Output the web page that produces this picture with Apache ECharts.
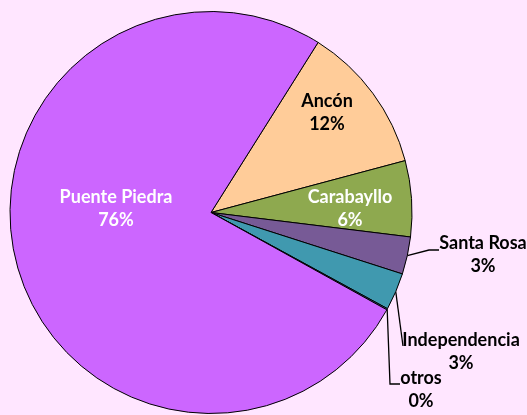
<!DOCTYPE html>
<html>
<head>
<meta charset="utf-8">
<script src="https://cdn.jsdelivr.net/npm/echarts@6/dist/echarts.min.js"></script>
<style>
  html, body { margin: 0; padding: 0; background: #ffe6ff; }
  #main { width: 527px; height: 415px; }
</style>
</head>
<body>
<div id="main"></div>
<script>
// datos (en %)
const districts = ['Ancón', 'Carabayllo', 'Santa Rosa', 'Independencia', 'otros', 'Puente Piedra'];
const shares = [11.9, 6.1, 3.0, 3.0, 0.1, 75.9];
const colors = ['#ffcc99', '#8ea94f', '#775a96', '#4099af', '#4a7ebb', '#cc66ff'];
const labelColors = ['#000', '#fff', '#000', '#000', '#000', '#fff'];
// posición de las etiquetas (centro del bloque de texto)
const labelPos = [[327, 113], [350, 209], [483, 255], [461, 352], [421, 390], [116, 209]];
// codos de las líneas guía (después del punto en el borde del sector)
const guideBends = [null, null, [[429, 250], [439, 250]], [[403, 346]], [[390, 384], [400, 384]], null];

const myChart = echarts.init(document.getElementById('main'));

const options = {
  backgroundColor: '#ffe6ff',
  animation: false,
  textStyle: {
    fontFamily: 'Lato'
  },
  series: [
    {
      type: 'pie',
      center: [211, 212.5],
      radius: 201,
      startAngle: 57.8,
      clockwise: true,
      avoidLabelOverlap: false,
      percentPrecision: 0,
      itemStyle: {
        borderColor: '#000',
        borderWidth: 1
      },
      label: {
        formatter: '{b}\n{d}%',
        fontSize: 18,
        fontWeight: 'bold',
        lineHeight: 23,
        align: 'center'
      },
      labelLine: {
        lineStyle: { color: '#000', width: 1.3 }
      },
      labelLayout: function (p) {
        const pos = labelPos[p.dataIndex];
        const bends = guideBends[p.dataIndex];
        const out = {
          x: pos[0],
          y: pos[1],
          align: 'center',
          verticalAlign: 'middle'
        };
        if (bends && p.labelLinePoints) {
          out.labelLinePoints = [p.labelLinePoints[0]].concat(bends);
        }
        return out;
      },
      data: districts.map((name, i) => ({
        name: name,
        value: shares[i],
        itemStyle: { color: colors[i] },
        label: {
          position: guideBends[i] ? 'outside' : 'inside',
          color: labelColors[i]
        },
        labelLine: { show: !!guideBends[i] }
      }))
    }
  ]
};

myChart.setOption(options);
</script>
</body>
</html>
